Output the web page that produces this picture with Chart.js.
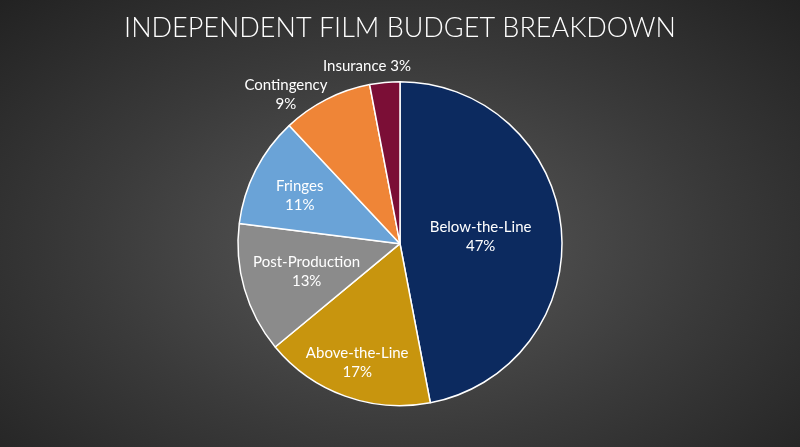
<!DOCTYPE html>
<html>
<head>
<meta charset="utf-8">
<script src="https://cdn.jsdelivr.net/npm/chart.js@4"></script>
<style>
  html, body { margin: 0; padding: 0; }
  body { width: 800px; height: 447px; background: radial-gradient(ellipse at 50% 55%, #5a5a5a 0%, #3a3a3a 55%, #222 100%); }
  #wrap { width: 800px; height: 447px; }
</style>
</head>
<body>
<div id="wrap"><canvas id="budgetPie"></canvas></div>
<script>
const categories = ['Below-the-Line', 'Above-the-Line', 'Post-Production', 'Fringes', 'Contingency', 'Insurance'];
const shares = [47, 17, 13, 11, 9, 3];
const sliceColors = ['#0c2a5f', '#c8950e', '#8b8b8b', '#6aa3d7', '#ef8537', '#7b0e36'];

// distance of each label from the centre, as a share of the radius, plus a nudge in px
const labelDist = [0.5, 0.78, 0.6, 0.66, 1.17, 1.12];
const labelNudge = [[0, 0], [0, 0], [0, 0], [-5, 0], [-28, 19], [-16, 3]];

const sliceLabels = {
    id: 'sliceLabels',
    afterDatasetsDraw(chart) {
        const ctx = chart.ctx;
        const meta = chart.getDatasetMeta(0);
        ctx.save();
        ctx.fillStyle = '#fff';
        ctx.font = '15px Lato';
        ctx.textAlign = 'center';
        ctx.textBaseline = 'middle';
        meta.data.forEach((arc, i) => {
            const mid = (arc.startAngle + arc.endAngle) / 2;
            const r = arc.outerRadius * labelDist[i];
            const x = arc.x + Math.cos(mid) * r + labelNudge[i][0];
            const y = arc.y + Math.sin(mid) * r + labelNudge[i][1];
            if (categories[i] === 'Insurance') {
                ctx.fillText(categories[i] + ' ' + shares[i] + '%', x, y);
            } else {
                ctx.fillText(categories[i], x, y - 9);
                ctx.fillText(shares[i] + '%', x, y + 10);
            }
        });
        ctx.restore();
    }
};

const ctx1 = document.getElementById('budgetPie').getContext('2d');
const budgetPie = new Chart(ctx1, {
    type: 'pie',
    data: {
        labels: categories,
        datasets: [{
            data: shares,
            backgroundColor: sliceColors,
            borderColor: '#ffffff',
            borderWidth: 1.5,
            radius: 162
        }]
    },
    options: {
        responsive: true,
        maintainAspectRatio: false,
        animation: false,
        layout: { padding: { bottom: 14 } },
        plugins: {
            legend: { display: false },
            tooltip: { enabled: false },
            title: {
                display: true,
                text: 'INDEPENDENT FILM BUDGET BREAKDOWN',
                color: '#ffffff',
                font: { family: 'Lato', size: 27, weight: 300 },
                padding: { top: 12, bottom: 10 }
            }
        }
    },
    plugins: [sliceLabels]
});
</script>
</body>
</html>
